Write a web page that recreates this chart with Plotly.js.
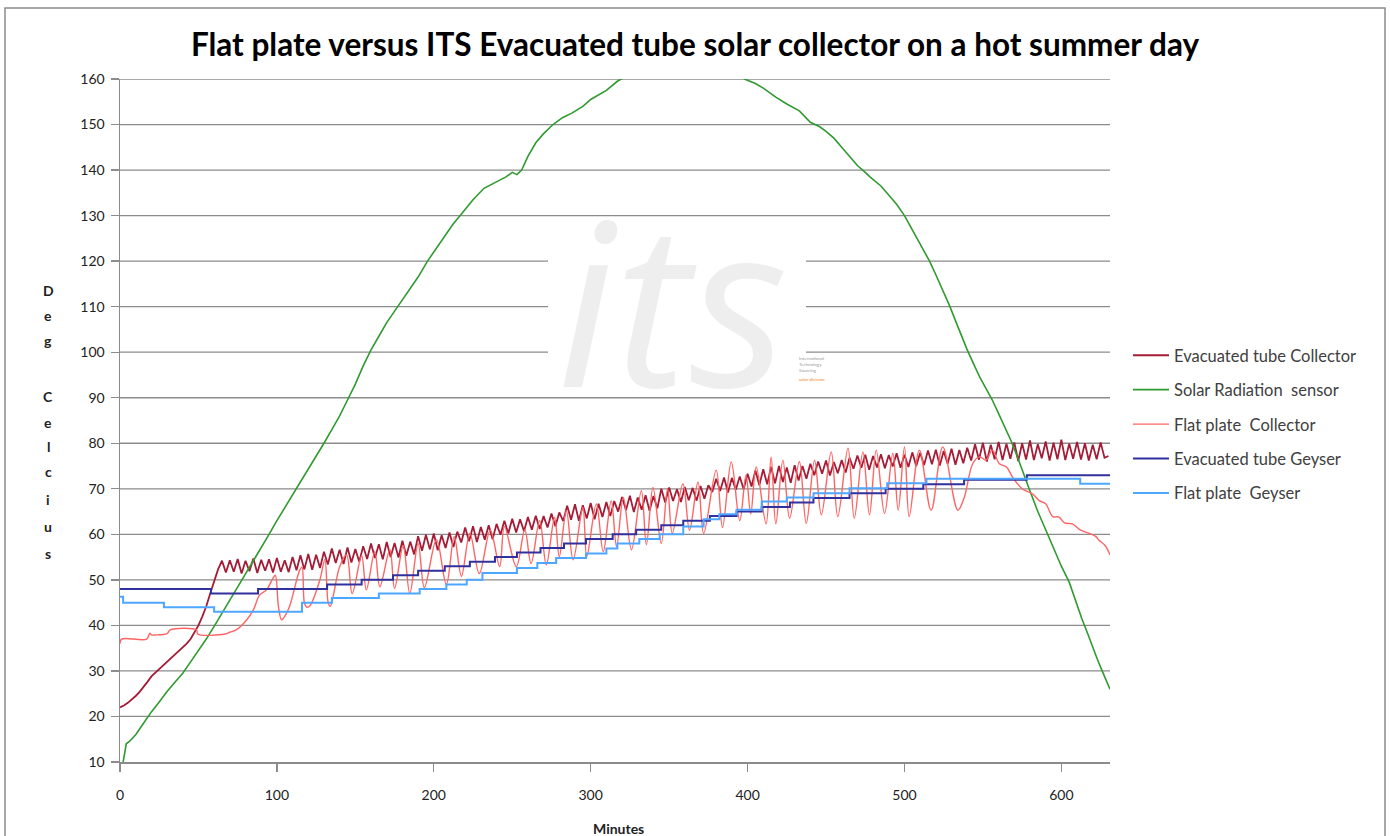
<!DOCTYPE html>
<html>
<head>
<meta charset="utf-8">
<script src="https://cdn.plot.ly/plotly-3.0.1.min.js"></script>
<style>html,body{margin:0;padding:0;background:#fff;}#chart{width:1390px;height:836px;}</style>
</head>
<body>
<div id="chart"></div>
<script>
// ---------------- DATA ----------------
const seriesNames = ["Evacuated tube Collector", "Solar Radiation  sensor", "Flat plate  Collector", "Evacuated tube Geyser", "Flat plate  Geyser"];
const xTicks = [0, 100, 200, 300, 400, 500, 600];
const yTicks = [10, 20, 30, 40, 50, 60, 70, 80, 90, 100, 110, 120, 130, 140, 150, 160];

// Evacuated tube collector, sampled every 2.5 minutes from minute 0
const etCollectorStep = 2.5;
const etCollector = [
 22,22.4,23,23.7,24.5,25.4,26.4,27.6,28.8,29.6,30.4,31.2,32,32.8,33.6,34.3,35.1,36,37,38.4,
 40,42,44.2,47,49.8,52.3,54.2,
 51.6,54.3,51.8,54.6,51.4,54.2,51.9,54.7,51.5,54.4,52.0,54.5,51.6,54.8,51.8,54.3,51.7,55.0,52.1,
 55.4,52.3,55.7,52.2,55.5,52.6,56.2,
 53.4,56.9,53.7,56.6,53.5,57.1,53.8,56.8,54.0,57.4,
 54.6,58.0,54.8,57.8,54.5,58.3,55.0,58.1,54.9,58.6,55.3,58.4,55.6,
 59.6,56.4,59.9,56.7,60.2,56.5,59.8,57.0,60.4,57.2,60.6,
 58.2,61.5,58.5,61.8,58.3,61.6,58.8,62.0,58.9,62.3,
 59.9,63.0,60.2,63.4,60.4,63.3,60.7,63.8,61.0,64.1,61.2,64.0,61.5,64.6,61.8,64.8,
 62.9,66.3,63.2,66.6,63.0,66.4,63.5,66.9,63.3,66.7,63.8,67.1,64.0,67.3,
 65.0,68.2,65.3,68.5,64.9,68.1,65.4,68.6,65.2,68.4,65.7,
 70.0,67.0,70.3,67.3,69.9,67.1,70.4,67.5,70.2,67.4,70.6,67.8,70.8,
 69.3,72.2,69.5,72.5,69.2,72.4,69.8,72.7,69.9,73.3,
 70.5,74.0,70.8,74.3,71.0,
 74.8,71.2,75.0,71.5,74.7,71.3,75.2,71.8,75.0,72.2,75.5,
 73.0,76.0,73.3,76.2,72.9,75.9,73.4,76.3,73.6,76.8,
 74.4,77.3,74.6,77.5,74.2,77.2,74.7,77.6,74.5,77.4,74.9,77.8,74.6,77.5,74.8,78.0,75.0,77.9,
 75.2,78.4,75.4,78.6,75.1,78.3,75.5,78.8,75.3,78.5,75.6,79.0,
 76.2,79.8,76.4,80.1,76.0,79.7,76.5,80.3,76.3,79.9,76.6,80.2,76.1,80.0,76.4,80.6,76.3,79.8,
 76.7,80.4,76.2,80.1,76.5,80.8,76.3,79.9,76.6,80.3,76.4,80.0,76.2,79.7,76.5,80.2,76.8,77.2
];

// Solar radiation sensor
const solarMin = [2,4,6,10,15,20,25,30,35,40,45,50,55,60,65,70,75,80,85,90,95,100,105,110,115,120,125,130,135,140,145,150,155,160,165,170,177,185,190,196,205,212,218,225,232,240,246,250,253,256,260,265,270,276,282,288,295,300,305,310,317,325,335,345,355,365,375,385,392,398,405,410,418,425,433,440,446,450,455,460,465,470,475,478,485,490,495,500,504,508,512,516,520,524,529,533,537,540,544,548,552,556,560,564,568,572,576,580,585,590,595,600,605,609,613,617,620,623,626,629,631];
const solarVal = [10,14,14.5,16,18.5,21,23.2,25.5,27.5,29.5,32,34.5,37,39.8,42.6,45.5,48.5,51.3,54.2,57,60,63,65.8,68.6,71.5,74.5,77.2,80,83,86,89.5,93,97,100.5,103.5,106.5,110,114,116.5,120,124.5,128,130.5,133.5,136,137.5,138.5,139.5,139,140,143,146,148,150,151.5,152.5,154,155.5,156.5,157.5,159.5,161,163,164,165,165,164.5,163,161.5,160,159,158,156,154.5,153,150.5,149.5,148.5,147,145,143,141,139.5,138.5,136.5,134.5,132.5,130,127.5,125,122.5,120,117,114,110,106.5,103,100.5,97.5,94.5,92,89.5,86.5,83.5,80.5,77,73,69.5,65,61,57,53,49.5,45.5,41.5,38,35,32.5,30,27.5,26];

// Flat plate collector
const fpColMin = [0,1,17,19,20,22,30,32,48.8,49.5,67,70,74,80.7,85,89,93.4,97.7,99,101,103,105,108,114.6,116,117.5,119,121,127.4,130.6,132.7,134,140,144.4,148,154,157,162.4,165.6,172,175,180.5,184.7,190,194,201.7,208,213,217.6,223,229,236,242,245,252.6,258,262,267.5,271.7,277,280,284.5,288.8,295,297.5,303.6,308,313.1,316.5,320.8,326,332.3,335.5,339.7,345,349,352,358.8,363,368.4,372,380,384,389.6,395,399,402,405.5,411.8,415,418,422.5,426.8,433,437.4,442.7,447,453.3,457.5,464,468,473.5,477.7,482,487.3,492.6,496,500,503,509.5,517,524.4,534,538,543.5,547.8,552,556,560.5,565,569,575,581.6,586,590,594.5,598.5,602,607,612,617.8,622,624,628,631];
const fpColVal = [36,37,37,38.3,37.9,37.9,38.2,39,39,38.1,38.1,38.5,39,41.2,43.4,46.7,47.8,50.5,51,44.1,41.2,42,44.1,52.2,52.8,45,44,44.3,50,54.5,45,44.2,52.9,55.5,47,55.3,47.8,56.2,48.5,56.6,48.1,57.5,47,58,48.3,58.8,49,59.5,50.8,60.2,51.4,60.9,52.9,61.7,52.9,61,53.6,63,53.3,63.7,55.1,65.2,54.4,65.9,55.1,66.7,56.2,67.4,57.3,68.1,56.6,69.6,57.7,70.3,58,70,60.2,71.1,60.9,71.5,60.2,74.1,61.5,75.9,63,73,64.5,74.8,62.3,77,62.3,76.3,63.5,76,62.4,76.3,64.3,78.1,63.9,78.9,63.5,78.1,64.3,78.5,64.6,77.8,65.3,79.2,63.9,78.5,65.3,79.2,65.3,68,75.5,77,76.3,78.5,75.5,74.8,72.5,70,68.9,67.4,66.7,63.9,63.8,62.5,62.3,61,60.2,59.5,58.7,57.5,55.5];

// Evacuated tube geyser (steps)
const etGeyMin = [0,58,88,132,154,174,190,207,223,239,253,268,283,297,314,329,345,359,376,393,409,427,442,465,488,512,538,578,631];
const etGeyVal = [48,47,48,49,50,51,52,53,54,55,56,57,58,59,60,61,62,63,64,65,66,67,68,69,70,71,72,73,73];

// Flat plate geyser (steps)
const fpGeyMin = [0,2,28,60,116,135,165,191,208,221,231,253,266,278,297,310,317,331,344,359,372,382,393,409,425,442,465,489,514,612,631];
const fpGeyVal = [46.3,45,44,43,45,46,47,48,49,50,51.5,52.6,53.7,54.8,55.8,56.9,58,59,60,61.7,63.3,64.4,65.4,67.2,68.1,69,70.1,71.2,72.2,71.1,71.1];

// ---------------- CHART ----------------
const etColMin = etCollector.map((v, i) => i * etCollectorStep);
const colors = ["#A51C36", "#2F9A2F", "#FF6464", "#30309E", "#4DA6FF"];
const FONT = "Lato, 'Open Sans', sans-serif";
const GRID = '#8c8c8c';

const traces = [
  {x: etColMin, y: etCollector, line: {color: colors[0], width: 1.8}},
  {x: solarMin, y: solarVal, line: {color: colors[1], width: 1.6}},
  {x: fpColMin, y: fpColVal, line: {color: colors[2], width: 1.4, shape: 'spline', smoothing: 1}},
  {x: etGeyMin, y: etGeyVal, line: {color: colors[3], width: 2, shape: 'hv'}},
  {x: fpGeyMin, y: fpGeyVal, line: {color: colors[4], width: 2, shape: 'hv'}}
].map((t, i) => Object.assign(t, {type: 'scatter', mode: 'lines', name: seriesNames[i], legendgroup: 'g' + i, hoverinfo: 'skip'}));

// pixel helpers for decorations (text/frame only)
const L = 120, R = 1110, T = 79, B = 762;
const px = x => (x - L) / (R - L);
const py = y => (B - y) / (B - T);

const annotations = [];
const yLetters = [["D",290],["e",315],["g",340],["C",397],["e",422],["l",446],["c",472],["i",499],["u",526],["s",553]];
yLetters.forEach(([ch, yy]) => annotations.push({
  text: ch, xref: 'paper', yref: 'paper', x: px(48), y: py(yy), xanchor: 'center', yanchor: 'middle',
  showarrow: false, font: {family: FONT, size: 14, color: '#222', weight: 'bold'}
}));
annotations.push({text: 'Minutes', xref: 'paper', yref: 'paper', x: px(618), y: py(828), xanchor: 'center', yanchor: 'middle',
  showarrow: false, font: {family: FONT, size: 14, color: '#222', weight: 'bold'}});
// watermark
annotations.push({text: '<i>its</i>', xref: 'paper', yref: 'paper', x: px(672), y: py(298), xanchor: 'center', yanchor: 'middle',
  showarrow: false, font: {family: "'Open Sans', sans-serif", size: 228, color: '#eeeeee', weight: 400}});
annotations.push({text: 'International<br>Technology<br>Sourcing', xref: 'paper', yref: 'paper', x: px(797), y: py(364), xanchor: 'left', yanchor: 'middle',
  align: 'left', showarrow: false, font: {family: FONT, size: 4.5, color: '#999'}});
annotations.push({text: 'solar division', xref: 'paper', yref: 'paper', x: px(797), y: py(379), xanchor: 'left', yanchor: 'middle',
  showarrow: false, font: {family: FONT, size: 4.5, color: '#F08020'}});

const shapes = [];
// horizontal gridlines at the y ticks
yTicks.slice(1).forEach(v => shapes.push({type: 'line', xref: 'paper', yref: 'y', x0: 0, x1: 1, y0: v, y1: v,
  layer: 'below', line: {color: GRID, width: 1.3}}));
// white watermark box hiding gridlines
shapes.push({type: 'rect', xref: 'paper', yref: 'paper', x0: px(548), x1: px(806), y0: py(390), y1: py(225), layer: 'below',
   fillcolor: '#ffffff', line: {width: 0}});
// outer chart frame
shapes.push({type: 'rect', xref: 'paper', yref: 'paper', x0: px(5), x1: px(1385), y0: py(845), y1: py(8), layer: 'above',
   fillcolor: 'rgba(0,0,0,0)', line: {color: GRID, width: 1.5}});

const layout = {
  width: 1390, height: 836,
  margin: {l: L, r: 1390 - R, t: T, b: 836 - B},
  paper_bgcolor: '#ffffff', plot_bgcolor: '#ffffff',
  font: {family: FONT, color: '#222'},
  title: {text: 'Flat plate versus ITS Evacuated tube solar collector on a hot summer day',
    font: {family: FONT, size: 31.5, color: '#000', weight: 'bold'}, x: 0.5, xanchor: 'center', y: 1 - 45/836, yanchor: 'middle', xref: 'container', yref: 'container'},
  xaxis: {range: [0, 631], tickvals: xTicks, ticks: 'outside', ticklen: 8, tickcolor: GRID, tickwidth: 1.3,
    showgrid: false, showline: true, linecolor: GRID, linewidth: 1.5, zeroline: false,
    tickfont: {family: FONT, size: 14, color: '#222'}, ticklabelstandoff: 12, fixedrange: true},
  yaxis: {range: [10, 160], tickvals: yTicks, ticks: 'outside', ticklen: 8, tickcolor: GRID, tickwidth: 1.3,
    showgrid: false, showline: true, linecolor: GRID, linewidth: 1.5, zeroline: false,
    tickfont: {family: FONT, size: 14, color: '#222'}, ticklabelstandoff: 3, fixedrange: true},
  showlegend: true,
  legend: {x: px(1128), y: py(338), xanchor: 'left', yanchor: 'top', tracegroupgap: 10, itemwidth: 36, bgcolor: 'rgba(0,0,0,0)',
    font: {family: FONT, size: 16.5, color: '#404040'}},
  annotations: annotations,
  shapes: shapes
};

Plotly.newPlot('chart', traces, layout, {displayModeBar: false, staticPlot: true});
</script>
</body>
</html>
